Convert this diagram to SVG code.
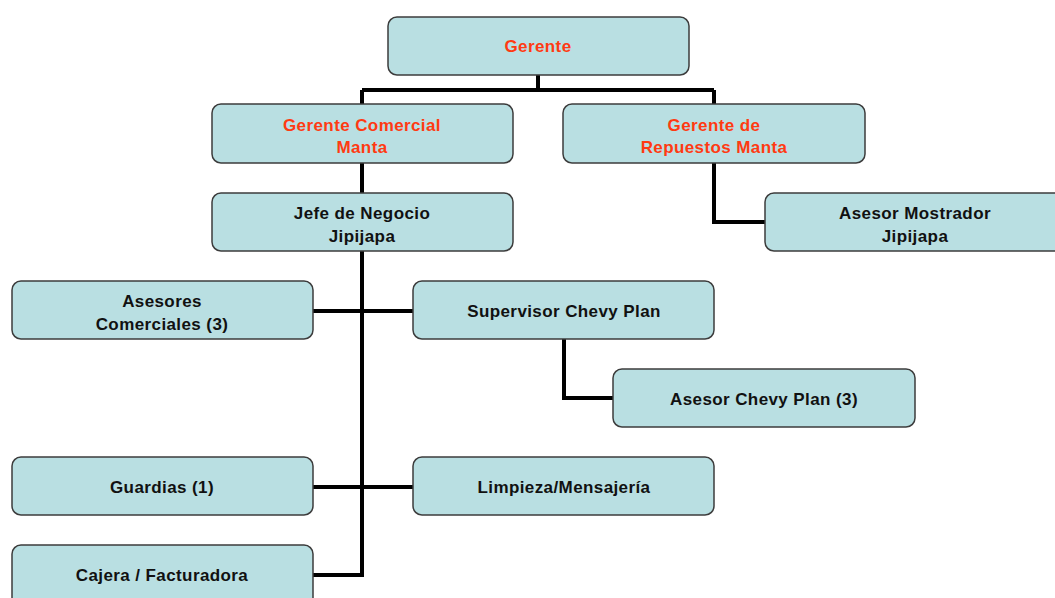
<svg xmlns="http://www.w3.org/2000/svg" width="1055" height="598" viewBox="0 0 1055 598">
  <style>
    .box { fill: #b9dfe2; stroke: #3c3c3c; stroke-width: 1.5; }
    .lbl { font-family: "Liberation Sans", Arial, sans-serif; font-weight: bold; font-size: 17px; letter-spacing: 0.4px; text-anchor: middle; fill: #111111; }
    .red { fill: #ff3a12; }
    .conn { fill: none; stroke: #000000; stroke-width: 4; stroke-linejoin: miter; }
  </style>
  <rect width="1055" height="598" fill="#ffffff"/>

  <g id="connectors">
    <path class="conn" d="M538 75 V90 M362 90 H714 M362 90 V104"/>
    <path class="conn" d="M714 90 V104"/>
    <path class="conn" d="M362 163 V193"/>
    <path class="conn" d="M714 163 V222 H765"/>
    <path class="conn" d="M362 251 V575 H313"/>
    <path class="conn" d="M313 311 H413"/>
    <path class="conn" d="M564 339 V398 H613"/>
    <path class="conn" d="M313 487 H413"/>
  </g>

  <g id="gerente">
    <rect class="box" x="388" y="17" width="301" height="58" rx="9"/>
    <text class="lbl red" x="538" y="52">Gerente</text>
  </g>
  <g id="gerente-comercial">
    <rect class="box" x="212" y="104" width="301" height="59" rx="9"/>
    <text class="lbl red" x="362" y="131">Gerente Comercial</text>
    <text class="lbl red" x="362" y="153">Manta</text>
  </g>
  <g id="gerente-repuestos">
    <rect class="box" x="563" y="104" width="302" height="59" rx="9"/>
    <text class="lbl red" x="714" y="131">Gerente de</text>
    <text class="lbl red" x="714" y="153">Repuestos Manta</text>
  </g>
  <g id="jefe-negocio">
    <rect class="box" x="212" y="193" width="301" height="58" rx="9"/>
    <text class="lbl" x="362" y="219">Jefe de Negocio</text>
    <text class="lbl" x="362" y="242">Jipijapa</text>
  </g>
  <g id="asesor-mostrador">
    <rect class="box" x="765" y="193" width="300" height="58" rx="9"/>
    <text class="lbl" x="915" y="219">Asesor Mostrador</text>
    <text class="lbl" x="915" y="242">Jipijapa</text>
  </g>
  <g id="asesores-comerciales">
    <rect class="box" x="12" y="281" width="301" height="58" rx="9"/>
    <text class="lbl" x="162" y="307">Asesores</text>
    <text class="lbl" x="162" y="330">Comerciales (3)</text>
  </g>
  <g id="supervisor-chevy">
    <rect class="box" x="413" y="281" width="301" height="58" rx="9"/>
    <text class="lbl" x="564" y="317">Supervisor Chevy Plan</text>
  </g>
  <g id="asesor-chevy">
    <rect class="box" x="613" y="369" width="302" height="58" rx="9"/>
    <text class="lbl" x="764" y="405">Asesor Chevy Plan (3)</text>
  </g>
  <g id="guardias">
    <rect class="box" x="12" y="457" width="301" height="58" rx="9"/>
    <text class="lbl" x="162" y="493">Guardias (1)</text>
  </g>
  <g id="limpieza">
    <rect class="box" x="413" y="457" width="301" height="58" rx="9"/>
    <text class="lbl" x="564" y="493">Limpieza/Mensajería</text>
  </g>
  <g id="cajera">
    <rect class="box" x="12" y="545" width="301" height="70" rx="9"/>
    <text class="lbl" x="162" y="581">Cajera / Facturadora</text>
  </g>
</svg>
